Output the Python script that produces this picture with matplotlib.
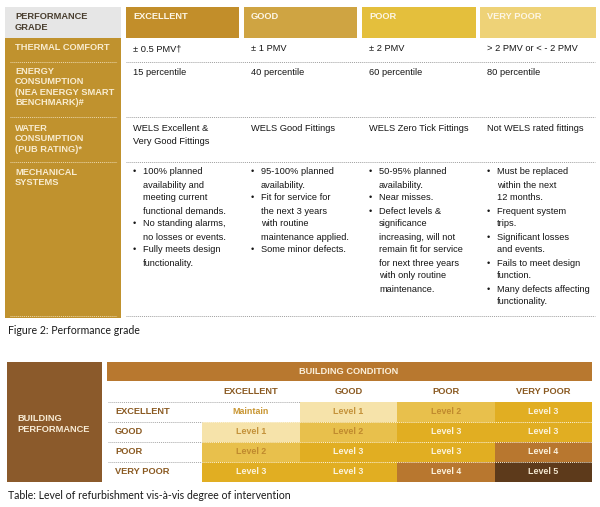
import matplotlib.pyplot as plt
from matplotlib.patches import Rectangle
from matplotlib.colors import ListedColormap, BoundaryNorm
import numpy as np

# --- data ---
grades = ["EXCELLENT", "GOOD", "POOR", "VERY POOR"]
criteria = ["THERMAL COMFORT",
            "ENERGY\nCONSUMPTION\n(NEA ENERGY SMART\nBENCHMARK)#",
            "WATER\nCONSUMPTION\n(PUB RATING)*",
            "MECHANICAL\nSYSTEMS"]
thermal = ["± 0.5 PMV†", "± 1 PMV", "± 2 PMV", "> 2 PMV or < - 2 PMV"]
energy = ["15 percentile", "40 percentile", "60 percentile", "80 percentile"]
water = ["WELS Excellent &\nVery Good Fittings", "WELS Good Fittings",
         "WELS Zero Tick Fittings", "Not WELS rated fittings"]
mechanical = [
    ["100% planned\navailability and\nmeeting current\nfunctional demands.",
     "No standing alarms,\nno losses or events.",
     "Fully meets design\nfunctionality."],
    ["95-100% planned\navailability.",
     "Fit for service for\nthe next 3 years\nwith routine\nmaintenance applied.",
     "Some minor defects."],
    ["50-95% planned\navailability.",
     "Near misses.",
     "Defect levels &\nsignificance\nincreasing, will not\nremain fit for service\nfor next three years\nwith only routine\nmaintenance."],
    ["Must be replaced\nwithin the next\n12 months.",
     "Frequent system\ntrips.",
     "Significant losses\nand events.",
     "Fails to meet design\nfunction.",
     "Many defects affecting\nfunctionality."],
]
# refurbishment level: rows = building performance, cols = building condition
levels = [[0, 1, 2, 3],
          [1, 2, 3, 3],
          [2, 3, 3, 4],
          [3, 3, 4, 5]]

# --- styles ---
FONT = "Liberation Sans"
head_cols = ["#c28e2a", "#cfa442", "#e4bf3c", "#eed277"]
gold = "#c0922e"
level_cols = ["#ffffff", "#f6e3aa", "#e8c04c", "#e1ae22", "#b8772f", "#5d3a1b"]
level_txt = ["#c99632", "#c4923a", "#c08a2e", "#fbf3dc", "#fbf1dc", "#f2e6cf"]
brown_txt = "#8a5a22"
body = "#161616"

fig = plt.figure(figsize=(6, 5.07), dpi=100)
ax = fig.add_axes([0, 0, 1, 1])
ax.set_xlim(0, 600)
ax.set_ylim(507, 0)
ax.axis("off")

def lines(x, y, txt, lh, **kw):
    for i, s in enumerate(txt.split("\n")):
        ax.text(x, y + i * lh, s, va="top", family=FONT, **kw)

# ---------------- top table ----------------
col_x = [126, 244, 362, 480]
col_w = [113, 113, 114, 116]
ax.add_patch(Rectangle((5, 7), 116, 31, color="#e6e6e6", lw=0))
lines(15, 12, "PERFORMANCE\nGRADE", 10.5, fontsize=6.7, weight="bold", color="#4a3f30")
for g, x, w, c in zip(grades, col_x, col_w, head_cols):
    ax.add_patch(Rectangle((x, 7), w, 31, color=c, lw=0))
    ax.text(x + 7, 12, g, va="top", family=FONT, fontsize=6.7, weight="bold", color="#fdf6e6")

ax.add_patch(Rectangle((5, 38), 116, 280, color=gold, lw=0))
row_top = [43, 67, 124, 168]
seps = [62, 117, 162, 316]
for lab, y in zip(criteria, row_top):
    lines(15, y, lab, 10.4, fontsize=6.7, weight="bold", color="#f8ecd0")
for y in seps:
    ax.plot([10, 117], [y, y], color="#ecd9ae", lw=0.7, ls=(0, (1, 1)))
    ax.plot([126, 595], [y, y], color="#a0a0a0", lw=0.7, ls=(0, (1, 1)))

for j, x in enumerate(col_x):
    tx = x + 7
    ax.text(tx, 44, thermal[j], va="top", family=FONT, fontsize=6.7, color=body)
    ax.text(tx, 68, energy[j], va="top", family=FONT, fontsize=6.7, color=body)
    lines(tx, 124, water[j], 12.5, fontsize=6.7, color=body)
    y = 167.5
    for b in mechanical[j]:
        ax.text(tx, y, "•", va="top", family=FONT, fontsize=6.7, color=body)
        lines(tx + 10, y, b, 13.0, fontsize=6.7, color=body)
        y += 13.0 * (b.count("\n") + 1)

ax.text(8, 325, "Figure 2: Performance grade", va="top", family="Lato",
        fontsize=7.6, color="#1a1a1a")

# ---------------- bottom table ----------------
ax.add_patch(Rectangle((7, 362), 95, 120, color="#8b5a2b", lw=0))
lines(17, 414, "BUILDING\nPERFORMANCE", 11, fontsize=6.7, weight="bold", color="#f8ecd6")
ax.add_patch(Rectangle((107, 362), 485, 19, color="#b8782f", lw=0))
ax.text(349, 371.5, "BUILDING CONDITION", ha="center", va="center", family=FONT,
        fontsize=6.7, weight="bold", color="#fbf0dc")

x_edges = np.array([202, 300, 397, 495, 592])
y_edges = np.array([402, 422, 442, 462, 482])
cmap = ListedColormap(level_cols)
norm = BoundaryNorm(np.arange(-0.5, 6.5), cmap.N)
ax.pcolormesh(x_edges, y_edges, np.array(levels), cmap=cmap, norm=norm)
ax.set_xlim(0, 600)
ax.set_ylim(507, 0)

xc = (x_edges[:-1] + x_edges[1:]) / 2
yc = (y_edges[:-1] + y_edges[1:]) / 2
for j, g in enumerate(grades):
    ax.text(xc[j], 392, g, ha="center", va="center", family=FONT, fontsize=6.7,
            weight="bold", color=brown_txt)
for i, g in enumerate(grades):
    ax.text(115, yc[i], g, va="center", family=FONT, fontsize=6.7,
            weight="bold", color=brown_txt)
    for j in range(4):
        lv = levels[i][j]
        lab = "Maintain" if lv == 0 else f"Level {lv}"
        ax.text(xc[j], yc[i], lab, ha="center", va="center", family=FONT,
                fontsize=6.4, weight="bold", color=level_txt[lv])

ax.plot([108, 300], [402, 402], color="#a8a8a8", lw=0.7, ls=(0, (1, 1)))
for y in y_edges[1:-1]:
    ax.plot([108, 202], [y, y], color="#a8a8a8", lw=0.7, ls=(0, (1, 1)))
    ax.plot([202, 592], [y, y], color="#fbf3dc", lw=0.7, ls=(0, (1, 1)))

ax.text(8, 490, "Table: Level of refurbishment vis-à-vis degree of intervention",
        va="top", family="Lato", fontsize=7.6, color="#1a1a1a")

fig.savefig("out.png", dpi=100)
